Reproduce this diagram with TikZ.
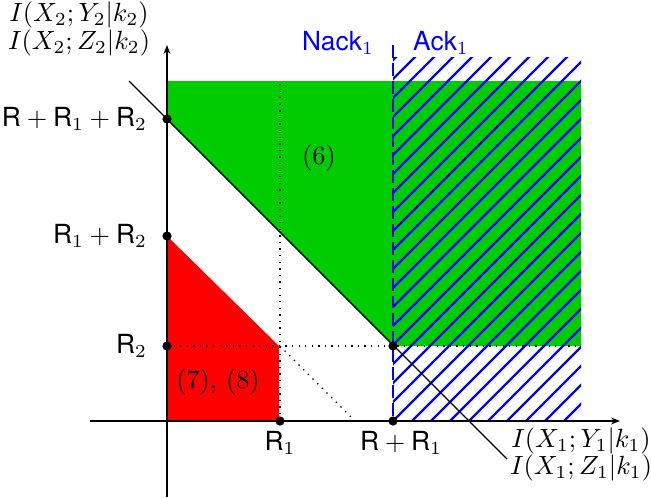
\documentclass[tikz,border=0pt]{standalone}
\usepackage{fontspec}
\setsansfont{TeX Gyre Heros}
\usetikzlibrary{arrows.meta}
\newcommand\myR{\textsf{R}}
\begin{document}
\begin{tikzpicture}[x=0.38pt,y=-0.38pt,
  axis/.style={line width=0.5pt,-{Stealth[length=3.4pt,width=2.6pt]}},
  dotline/.style={dotted,line width=0.5pt},
  hatchline/.style={blue,line width=0.9pt},
  dot/.style={circle,fill=black,inner sep=0pt,minimum size=3.5pt},
  lbl/.style={inner sep=1pt},
  sflbl/.style={inner sep=1pt,font=\sffamily}]
\useasboundingbox (0,0) rectangle (651,497);
% regions
\fill[green!80!black] (167,81) -- (581,81) -- (581,346) -- (393,346) -- (167,120) -- cycle;
\fill[red] (167,236) -- (279,346) -- (279,421) -- (167,421) -- cycle;
% hatching
\begin{scope}
\clip (393,57) rectangle (581,421);
\foreach \k in {21,...,53} {\draw[hatchline] ({16+19*\k},0) -- ({16+19*\k-520},520);}
\end{scope}
% points
\coordinate (o) at (167,421);
\coordinate (p3) at (167,119);
\coordinate (p2) at (167,236);
\coordinate (p1) at (167,346);
\coordinate (q1) at (280,421);
\coordinate (q2) at (393,421);
\coordinate (c) at (393,346);
\coordinate (r) at (280,346);
\coordinate (rt) at (280,84);
\coordinate (re) at (581,346);
\coordinate (rd) at (355,421);
% dotted guides
\draw[dotline] (rt) -- (q1);
\draw[dotline] (p1) -- (re);
\draw[dotline] (r) -- (rd);
% axes
\coordinate (xa0) at (90,421);
\coordinate (xa1) at (620,421);
\coordinate (ya0) at (167,497);
\coordinate (ya1) at (167,45);
\draw[axis] (xa0) -- (xa1);
\draw[axis] (ya0) -- (ya1);
% diagonal
\coordinate (d0) at (129,81);
\coordinate (d1) at (507,459);
\draw[line width=0.5pt] (d0) -- (d1);
% blue dashed
\coordinate (b0) at (393,45);
\draw[blue,line width=1.1pt,dash pattern=on 4.9pt off 1.9pt] (b0) -- (q2);
% dots
\foreach \p in {p3,p2,p1,q1,q2,c} \node[dot] at (\p) {};
% labels
\node[lbl,anchor=east] (l3) at (150,119) {\myR${}+{}$\myR$_1+{}$\myR$_2$};
\node[lbl,anchor=east] (l2) at (150,236) {\myR$_1+{}$\myR$_2$};
\node[lbl,anchor=east] (l1) at (150,346) {\myR$_2$};
\node[lbl] (lq1) at (280,443) {\myR$_1$};
\node[lbl] (lq2) at (401,443) {\myR${}+{}$\myR$_1$};
\node[lbl,text=blue] (nack) at (338,43) {\textsf{Nack}$_1$};
\node[lbl,text=blue] (ack) at (441,43) {\textsf{Ack}$_1$};
\node[lbl] (r6) at (319,158) {(6)};
\node[lbl] (r78) at (218,382) {(7), (8)};
\node[lbl] (xl1) at (581,441) {$I(X_1;Y_1|k_1)$};
\node[lbl] (xl2) at (581,468) {$I(X_1;Z_1|k_1)$};
\node[lbl] (yl1) at (79,15) {$I(X_2;Y_2|k_2)$};
\node[lbl] (yl2) at (79,43) {$I(X_2;Z_2|k_2)$};
\end{tikzpicture}
\end{document}
